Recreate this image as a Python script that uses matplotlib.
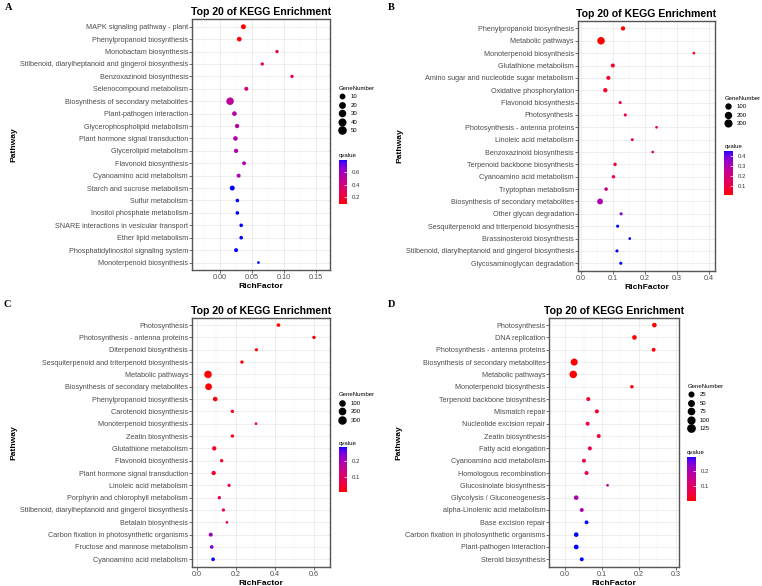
import numpy as np
import matplotlib
matplotlib.use('Agg')
import matplotlib.pyplot as plt
from matplotlib.colors import ListedColormap, Normalize
from matplotlib.lines import Line2D
from matplotlib.ticker import MultipleLocator, FormatStrFormatter
import matplotlib.cm as cm

plt.rcParams['font.family'] = 'Liberation Sans'

W, H = 762, 586

#######----- A
A_pathways = ["MAPK signaling pathway - plant", "Phenylpropanoid biosynthesis", "Monobactam biosynthesis",
              "Stilbenoid, diarylheptanoid and gingerol biosynthesis", "Benzoxazinoid biosynthesis",
              "Selenocompound metabolism", "Biosynthesis of secondary metabolites", "Plant-pathogen interaction",
              "Glycerophospholipid metabolism", "Plant hormone signal transduction", "Glycerolipid metabolism",
              "Flavonoid biosynthesis", "Cyanoamino acid metabolism", "Starch and sucrose metabolism",
              "Sulfur metabolism", "Inositol phosphate metabolism", "SNARE interactions in vesicular transport",
              "Ether lipid metabolism", "Phosphatidylinositol signaling system", "Monoterpenoid biosynthesis"]
A_rich = [0.0365, 0.030, 0.089, 0.066, 0.1125, 0.041, 0.0156, 0.0224, 0.0266, 0.024,
          0.025, 0.0375, 0.029, 0.019, 0.027, 0.027, 0.033, 0.033, 0.025, 0.060]
A_genes = [15, 12, 4, 4, 4, 7, 57, 12, 9, 11, 9, 6, 7, 15, 5, 5, 5, 5, 7, 3]
A_q = [0.09, 0.10, 0.20, 0.27, 0.23, 0.40, 0.49, 0.52, 0.53, 0.53,
       0.53, 0.54, 0.56, 0.79, 0.79, 0.79, 0.79, 0.79, 0.79, 0.79]
A_size_breaks = [10, 20, 30, 40, 50]
A_q_ticks = [0.2, 0.4, 0.6]

#######----- B
B_pathways = ["Phenylpropanoid biosynthesis", "Metabolic pathways", "Monoterpenoid biosynthesis",
              "Glutathione metabolism", "Amino sugar and nucleotide sugar metabolism", "Oxidative phosphorylation",
              "Flavonoid biosynthesis", "Photosynthesis", "Photosynthesis - antenna proteins",
              "Linoleic acid metabolism", "Benzoxazinoid biosynthesis", "Terpenoid backbone biosynthesis",
              "Cyanoamino acid metabolism", "Tryptophan metabolism", "Biosynthesis of secondary metabolites",
              "Other glycan degradation", "Sesquiterpenoid and triterpenoid biosynthesis",
              "Brassinosteroid biosynthesis", "Stilbenoid, diarylheptanoid and gingerol biosynthesis",
              "Glycosaminoglycan degradation"]
B_rich = [0.131, 0.062, 0.353, 0.099, 0.085, 0.0755, 0.122, 0.138, 0.236, 0.160,
          0.224, 0.106, 0.101, 0.078, 0.059, 0.125, 0.114, 0.152, 0.112, 0.124]
B_genes = [55, 420, 8, 40, 40, 55, 11, 11, 8, 9, 8, 17, 17, 22, 184, 11, 11, 8, 11, 11]
B_q = [0.012, 0.012, 0.03, 0.05, 0.06, 0.06, 0.09, 0.09, 0.10, 0.10,
       0.10, 0.08, 0.09, 0.22, 0.30, 0.36, 0.447, 0.447, 0.447, 0.447]
B_size_breaks = [100, 200, 300]
B_q_ticks = [0.1, 0.2, 0.3, 0.4]

#######----- C
C_pathways = ["Photosynthesis", "Photosynthesis - antenna proteins", "Diterpenoid biosynthesis",
              "Sesquiterpenoid and triterpenoid biosynthesis", "Metabolic pathways",
              "Biosynthesis of secondary metabolites", "Phenylpropanoid biosynthesis", "Carotenoid biosynthesis",
              "Monoterpenoid biosynthesis", "Zeatin biosynthesis", "Glutathione metabolism",
              "Flavonoid biosynthesis", "Plant hormone signal transduction", "Linoleic acid metabolism",
              "Porphyrin and chlorophyll metabolism", "Stilbenoid, diarylheptanoid and gingerol biosynthesis",
              "Betalain biosynthesis", "Carbon fixation in photosynthetic organisms",
              "Fructose and mannose metabolism", "Cyanoamino acid metabolism"]
C_rich = [0.419, 0.601, 0.306, 0.232, 0.058, 0.061, 0.095, 0.183, 0.304, 0.183,
          0.090, 0.128, 0.087, 0.166, 0.116, 0.137, 0.155, 0.072, 0.077, 0.084]
C_genes = [21, 13, 10, 13, 360, 257, 62, 13, 6, 13, 46, 13, 46, 10, 13, 10, 6, 32, 21, 21]
C_q = [0.003, 0.003, 0.005, 0.008, 0.003, 0.003, 0.008, 0.02, 0.02, 0.02,
       0.03, 0.035, 0.035, 0.05, 0.06, 0.06, 0.08, 0.21, 0.24, 0.288]
C_size_breaks = [100, 200, 300]
C_q_ticks = [0.1, 0.2]

#######----- D
D_pathways = ["Photosynthesis", "DNA replication", "Photosynthesis - antenna proteins",
              "Biosynthesis of secondary metabolites", "Metabolic pathways", "Monoterpenoid biosynthesis",
              "Terpenoid backbone biosynthesis", "Mismatch repair", "Nucleotide excision repair",
              "Zeatin biosynthesis", "Fatty acid elongation", "Cyanoamino acid metabolism",
              "Homologous recombination", "Glucosinolate biosynthesis", "Glycolysis / Gluconeogenesis",
              "alpha-Linolenic acid metabolism", "Base excision repair",
              "Carbon fixation in photosynthetic organisms", "Plant-pathogen interaction", "Steroid biosynthesis"]
D_rich = [0.242, 0.188, 0.240, 0.0245, 0.022, 0.181, 0.0627, 0.086, 0.061, 0.091,
          0.067, 0.051, 0.058, 0.115, 0.030, 0.045, 0.058, 0.030, 0.030, 0.045]
D_genes = [25, 25, 12, 110, 135, 8, 14, 14, 14, 13, 14, 14, 14, 4, 24, 13, 11, 25, 27, 13]
D_q = [0.001, 0.002, 0.002, 0.002, 0.001, 0.01, 0.04, 0.045, 0.05, 0.05,
       0.055, 0.06, 0.065, 0.18, 0.19, 0.19, 0.293, 0.293, 0.293, 0.293]
D_size_breaks = [25, 50, 75, 100, 125]
D_q_ticks = [0.1, 0.2]


#---> red to blue gradient through Lab (like ggplot scale_colour_gradient)
def lab2rgb(L, a, b):
    fy = (L + 16) / 116
    fx = fy + a / 500
    fz = fy - b / 200
    finv = lambda t: np.where(t > 6 / 29, t ** 3, 3 * (6 / 29) ** 2 * (t - 4 / 29))
    X = 0.95047 * finv(fx)
    Y = finv(fy)
    Z = 1.08883 * finv(fz)
    r = 3.2406 * X - 1.5372 * Y - 0.4986 * Z
    g = -0.9689 * X + 1.8758 * Y + 0.0415 * Z
    bb = 0.0557 * X - 0.2040 * Y + 1.0570 * Z
    rgb = np.clip(np.stack([r, g, bb], axis=-1), 0, 1)
    return np.where(rgb <= 0.0031308, 12.92 * rgb, 1.055 * rgb ** (1 / 2.4) - 0.055)

tt = np.linspace(0, 1, 256)
lab_red = np.array([53.24, 80.09, 67.20])
lab_blue = np.array([32.30, 79.19, -107.86])
lab = lab_red[None, :] * (1 - tt[:, None]) + lab_blue[None, :] * tt[:, None]
cmap_q = ListedColormap(lab2rgb(lab[:, 0], lab[:, 1], lab[:, 2]))


def px_rect(l, t, r, b):
    return [l / W, 1 - b / H, (r - l) / W, (b - t) / H]


def dot_pt(g, gmin, gmax):
    # ggplot-like area scale: diameter grows with sqrt of rescaled value
    t = (np.asarray(g, dtype=float) - gmin) / (gmax - gmin)
    d_px = 2.7 + 4.8 * np.sqrt(np.clip(t, 0, 1))
    return d_px * 72 / 100


fig = plt.figure(figsize=(W / 100, H / 100), dpi=100)


def panel(letter, letter_xy, ax_px, pathways, rich, genes, qv, xstep, xlim, xfmt,
          size_breaks, leg_xy, cb_px, q_ticks):
    ax = fig.add_axes(px_rect(*ax_px))
    n = len(pathways)
    ypos = np.arange(n, 0, -1)
    gmin, gmax = min(genes), max(genes)
    norm = Normalize(vmin=min(qv), vmax=max(qv))
    ax.scatter(rich, ypos, s=dot_pt(genes, gmin, gmax) ** 2, c=qv, cmap=cmap_q, norm=norm,
               linewidths=0, zorder=3)
    ax.set_yticks(ypos)
    ax.set_yticklabels(pathways)
    ax.set_ylim(0.4, n + 0.6)
    ax.set_xlim(*xlim)
    ax.xaxis.set_major_locator(MultipleLocator(xstep))
    ax.xaxis.set_minor_locator(MultipleLocator(xstep / 2))
    ax.xaxis.set_major_formatter(FormatStrFormatter(xfmt))
    ax.grid(True, which='major', color='#EBEBEB', lw=0.6, zorder=0)
    ax.grid(True, which='minor', axis='x', color='#F3F3F3', lw=0.35, zorder=0)
    ax.set_axisbelow(True)
    ax.tick_params(axis='both', which='major', labelsize=5.25, length=2, width=0.5,
                   color='#333333', labelcolor='#4D4D4D', pad=0.8)
    ax.tick_params(axis='x', which='minor', length=0)
    for sp in ax.spines.values():
        sp.set_color('#555555')
        sp.set_linewidth(1.0)
    ax.set_title('Top 20 of KEGG Enrichment', fontsize=7.6, fontweight='bold', pad=3)
    ax.set_xlabel('RichFactor', fontsize=6.1, fontweight='bold', labelpad=1.5)
    ax.set_ylabel('Pathway', fontsize=6.1, fontweight='bold', labelpad=2)

    # GeneNumber legend
    handles = [Line2D([], [], marker='o', linestyle='', color='black',
                      markersize=float(dot_pt(b, gmin, gmax))) for b in size_breaks]
    ax.legend(handles, [str(b) for b in size_breaks], title='GeneNumber',
              loc='upper left', bbox_to_anchor=(leg_xy[0] / W, 1 - leg_xy[1] / H),
              bbox_transform=fig.transFigure, frameon=False, borderpad=0, borderaxespad=0,
              fontsize=4.3, title_fontsize=4.3, handlelength=1.0, handletextpad=1.0,
              labelspacing=0.55, alignment='left')

    # qvalue colorbar
    cax = fig.add_axes(px_rect(*cb_px))
    sm = cm.ScalarMappable(norm=norm, cmap=cmap_q)
    cb = fig.colorbar(sm, cax=cax, ticks=q_ticks)
    cb.outline.set_visible(False)
    cb.ax.tick_params(labelsize=4.3, length=2, width=0.5, color='white', direction='in',
                      pad=3.5, labelcolor='#333333')
    cb.ax.set_yticklabels([f'{v:.1f}' for v in q_ticks])
    cax.set_title('qvalue', fontsize=4.3, loc='left', pad=2)

    fig.text(letter_xy[0] / W, 1 - letter_xy[1] / H, letter, family='Liberation Serif',
             fontweight='bold', fontsize=7.5, va='top', ha='left')
    return ax


panel('A', (5, 3), (192, 19.3, 330, 270), A_pathways, A_rich, A_genes, A_q,
      0.05, (-0.044, 0.172), '%.2f', A_size_breaks, (339, 86), (339, 160, 347.3, 204), A_q_ticks)
panel('B', (388, 3), (577.7, 21, 715.3, 270.7), B_pathways, B_rich, B_genes, B_q,
      0.1, (-0.011, 0.42), '%.1f', B_size_breaks, (725, 96), (724.3, 151, 733.3, 195), B_q_ticks)
panel('C', (4, 300), (192, 317.7, 330, 566.7), C_pathways, C_rich, C_genes, C_q,
      0.2, (-0.024, 0.683), '%.1f', C_size_breaks, (339, 392.5), (339, 447.3, 347.3, 491.7), C_q_ticks)
panel('D', (388, 300), (549.3, 317.7, 678.7, 566.7), D_pathways, D_rich, D_genes, D_q,
      0.1, (-0.043, 0.308), '%.1f', D_size_breaks, (687.7, 384), (687, 456.7, 696, 500.7), D_q_ticks)

plt.savefig('out.png', dpi=100)
